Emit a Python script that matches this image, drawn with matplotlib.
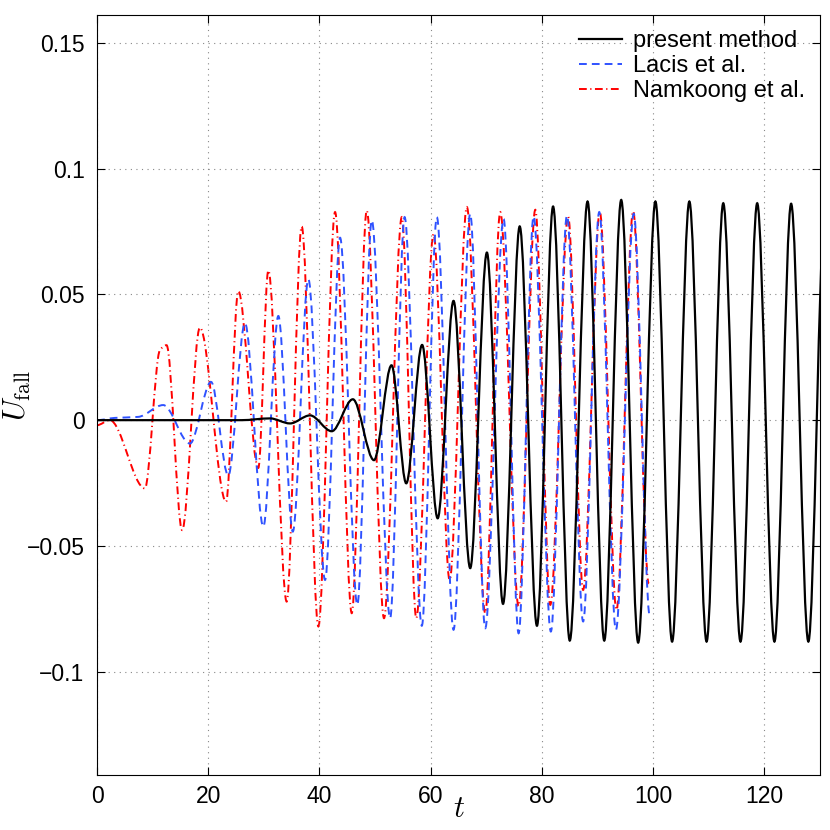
"""
Recreate the U_fall vs t comparison chart and save it as out.png.
"""

import numpy as np
import matplotlib
matplotlib.use("Agg")
import matplotlib.pyplot as plt
from matplotlib.path import Path
from matplotlib.patches import PathPatch
from matplotlib.lines import Line2D

# extrema / key points (t, U_fall)
present_t = [0, 26.0, 31.1, 34.7, 38.3, 42.2, 46.0, 49.8, 52.95, 55.6, 58.45,
             61.25, 64.1, 67.1, 70.1, 73.0, 76.0, 79.1, 82.0, 85.0, 88.2, 91.2,
             94.25, 97.3, 100.4, 103.4, 106.5, 109.6, 112.6, 115.7, 118.7,
             121.8, 124.8, 127.9, 130.9]
present_u = [0, 0, 0.0007, -0.0013, 0.0019, -0.0044, 0.0083, -0.0159, 0.0218,
             -0.0251, 0.0299, -0.039, 0.0474, -0.0588, 0.0666, -0.073, 0.077,
             -0.0817, 0.0849, -0.0876, 0.0869, -0.0876, 0.0875, -0.0884, 0.0869,
             -0.088, 0.0869, -0.088, 0.0862, -0.088, 0.0862, -0.088, 0.086,
             -0.088, 0.086]

lacis_t = [0, 3.2, 7.4, 11.9, 16.7, 20.5, 23.6, 26.6, 29.9, 32.6, 35.2, 38.0,
           41.0, 43.7, 46.8, 49.4, 52.7, 55.3, 58.4, 61.1, 64.1, 67.1, 69.8,
           73.1, 75.8, 78.5, 81.6, 84.5, 87.4, 90.3, 93.3, 96.5, 99.4]
lacis_u = [0, 0.0009, 0.0013, 0.006, -0.0093, 0.0152, -0.022, 0.0386, -0.0423,
           0.0414, -0.0443, 0.056, -0.0635, 0.0725, -0.0734, 0.0794, -0.0787,
           0.0807, -0.0817, 0.0807, -0.0833, 0.082, -0.0827, 0.080, -0.0847,
           0.081, -0.084, 0.0813, -0.080, 0.0827, -0.0833, 0.082, -0.078]

namkoong_t = [0, 2.3, 8.6, 11.3, 12.5, 15.3, 18.5, 23.2, 25.4, 29.0, 30.8,
              34.1, 36.8, 39.8, 42.8, 45.8, 48.5, 51.6, 54.8, 57.4, 60.5, 63.4,
              66.5, 69.8, 72.5, 75.8, 78.8, 81.5, 84.7, 87.4, 90.4, 93.4, 96.4,
              99.2]
namkoong_u = [-0.002, 0.0, -0.0271, 0.0278, 0.0298, -0.0437, 0.0368, -0.0324,
              0.0513, -0.019, 0.0595, -0.0721, 0.077, -0.082, 0.0827, -0.0767,
              0.0833, -0.0787, 0.0807, -0.0787, 0.074, -0.0635, 0.0847, -0.0767,
              0.0827, -0.074, 0.0836, -0.0734, 0.081, -0.0675, 0.0827, -0.0754,
              0.083, -0.065]

x_ticks = [0, 20, 40, 60, 80, 100, 120]
y_ticks = [-0.1, -0.05, 0, 0.05, 0.1, 0.15]
y_tick_labels = ["\u22120.1", "\u22120.05", "0", "0.05", "0.1", "0.15"]
labels = ["present method", "Lacis et al.", "Namkoong et al."]

BLUE = "#2f52ff"
RED = "#ff0000"


def smooth_path(t, u):
    """Cubic Hermite (monotone slopes) through the points, as a Bezier path."""
    t = np.asarray(t, float)
    u = np.asarray(u, float)
    h = np.diff(t)
    d = np.diff(u) / h
    m = np.zeros_like(u)
    for i in range(1, len(u) - 1):
        if d[i - 1] * d[i] > 0:
            w1 = 2 * h[i] + h[i - 1]
            w2 = h[i] + 2 * h[i - 1]
            m[i] = (w1 + w2) / (w1 / d[i - 1] + w2 / d[i])
    verts = [(t[0], u[0])]
    codes = [Path.MOVETO]
    for i in range(len(h)):
        verts += [(t[i] + h[i] / 3, u[i] + m[i] * h[i] / 3),
                  (t[i + 1] - h[i] / 3, u[i + 1] - m[i + 1] * h[i] / 3),
                  (t[i + 1], u[i + 1])]
        codes += [Path.CURVE4] * 3
    return Path(verts, codes)


plt.rcParams["font.family"] = ["Liberation Sans", "DejaVu Sans"]
plt.rcParams["mathtext.fontset"] = "cm"

fig = plt.figure(figsize=(8.3, 8.3), dpi=100)
ax = fig.add_axes([0.1169, 0.0663, 0.8711, 0.9156])

styles = [
    dict(color="black", lw=1.6, ls="-"),
    dict(color=BLUE, lw=1.4, ls=(0, (4, 2.6))),
    dict(color=RED, lw=1.4, ls=(0, (4, 1.8, 0.6, 1.8))),
]
series = [(present_t, present_u), (lacis_t, lacis_u), (namkoong_t, namkoong_u)]

# draw the two reference curves first, present method on top
for (t, u), st, z in zip(series, styles, [3, 2, 1]):
    patch = PathPatch(smooth_path(t, u), fill=False, edgecolor=st["color"],
                      lw=st["lw"], linestyle=st["ls"], zorder=z)
    ax.add_patch(patch)

ax.set_xlim(0, 130)
ax.set_ylim(-0.141, 0.161)
ax.set_xticks(x_ticks)
ax.set_yticks(y_ticks)
ax.set_yticklabels(y_tick_labels)
ax.tick_params(direction="in", length=6, top=True, right=True, labelsize=16.5)
ax.tick_params(axis="x", pad=7)
ax.tick_params(axis="y", pad=9)
ax.grid(True, color="#888888", linestyle=(0, (1, 4)), linewidth=0.8)

ax.set_xlabel("$t$", fontsize=22, va="center")
ax.xaxis.set_label_coords(0.5, -0.045)
ax.set_ylabel(r"$U_{\mathrm{fall}}$", fontsize=22, va="center")
ax.yaxis.set_label_coords(-0.11, 0.5)

handles = [Line2D([], [], **st) for st in styles]
ax.legend(handles, labels, loc="upper right", frameon=False, fontsize=17,
          handlelength=1.8, handletextpad=0.45, labelspacing=0.12,
          borderaxespad=0.25)

fig.savefig("out.png", dpi=100)
